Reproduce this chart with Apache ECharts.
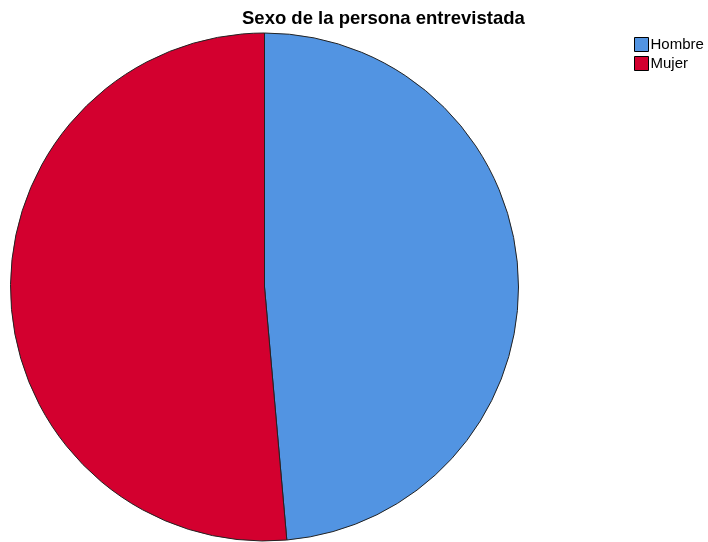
<!DOCTYPE html>
<html><head><meta charset="utf-8">
<script src="https://cdn.jsdelivr.net/npm/echarts@6/dist/echarts.min.js"></script>
<style>html,body{margin:0;padding:0;background:#fff}#c{width:708px;height:542px}</style>
</head><body><div id="c"></div>
<script>
const categories = ["Hombre", "Mujer"];
const values = [48.6, 51.4];
const colors = ["#5294e2", "#d3002f"];

const chart = echarts.init(document.getElementById('c'), null, {renderer: 'canvas'});
chart.setOption({
  animation: false,
  title: {
    text: "Sexo de la persona entrevistada",
    left: 242, top: 5, padding: [4, 0, 0, 0],
    textStyle: {fontFamily: "Liberation Sans", fontSize: 18.5, fontWeight: "bold", color: "#000"}
  },
  legend: {
    orient: "vertical", left: 634, top: 37, padding: 0,
    itemWidth: 14, itemHeight: 14, itemGap: 4,
    icon: "rect",
    textStyle: {fontFamily: "Liberation Sans", fontSize: 15, color: "#000", padding: [0,0,0,-3]},
    itemStyle: {borderColor: "#000", borderWidth: 1},
    data: categories
  },
  series: [{
    type: "pie",
    center: [264.5, 287],
    radius: [0, 254],
    startAngle: 90,
    clockwise: true,
    label: {show: false},
    labelLine: {show: false},
    emphasis: {disabled: true},
    itemStyle: {borderColor: "#222", borderWidth: 1},
    data: categories.map((c, i) => ({name: c, value: values[i], itemStyle: {color: colors[i]}}))
  }]
});
</script></body></html>
